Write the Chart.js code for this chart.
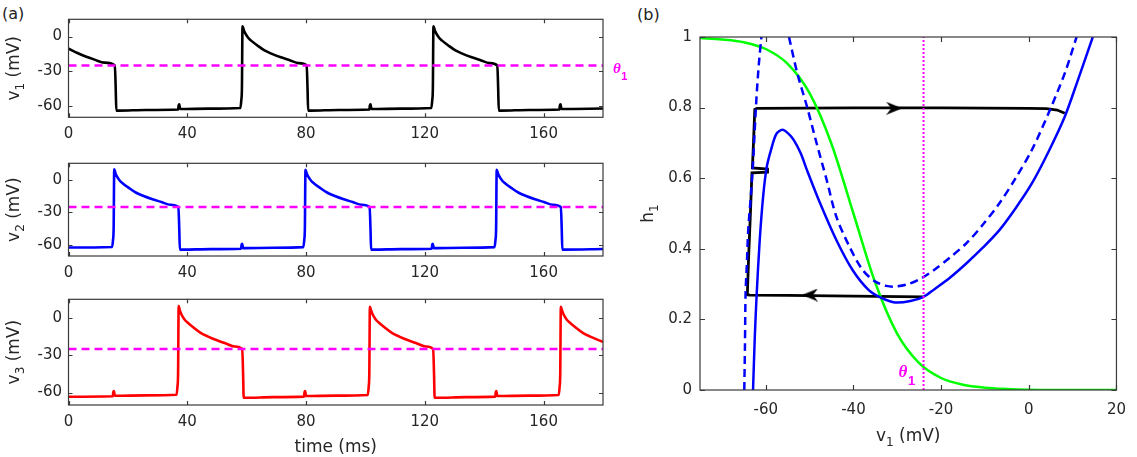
<!DOCTYPE html>
<html>
<head>
<meta charset="utf-8">
<script src="https://cdn.jsdelivr.net/npm/chart.js@4.4.1/dist/chart.umd.min.js"></script>
<style>
  html, body { margin: 0; padding: 0; background: #fff; }
  body { width: 1137px; height: 457px; position: relative; overflow: hidden;
         font-family: "DejaVu Sans", sans-serif; }
  .panel { position: absolute; }
  .panel canvas { display: block; }
  .tag { position: absolute; font-size: 16px; color: #222; line-height: 20px; }
</style>
</head>
<body>
<div class="tag" style="left:2px;top:4px">(a)</div>
<div class="tag" style="left:637px;top:5px">(b)</div>
<div class="panel" style="left:0;top:0"><canvas id="c1" width="640" height="150"></canvas></div>
<div class="panel" style="left:0;top:144px"><canvas id="c2" width="640" height="140"></canvas></div>
<div class="panel" style="left:0;top:280px"><canvas id="c3" width="640" height="177"></canvas></div>
<div class="panel" style="left:640px;top:0"><canvas id="c4" width="497" height="457"></canvas></div>
<script>
// ---- panel (a): membrane potentials over time ----
const timeTicks = [0, 40, 80, 120, 160];
const voltTicks = [-60, -30, 0];
const thetaLeft = -25;

// [time ms, v mV]
const v1Trace = [[0,-10.5],[3,-14.2],[6,-17.5],[9,-20.2],[12,-22.6],[15.6,-25],[15.9,-45],[16.1,-64.2],[17,-64.2],[26,-63.7],[36.9,-63.3],[37.1,-59.5],[37.3,-58.8],[37.6,-62.8],[47,-62.5],[57.9,-61.9],[58.2,-55],[58.4,-45],[58.6,9],[59,6],[59.5,3],[60.5,-1],[61.5,-3.5],[63.5,-7.5],[66,-12],[68.5,-15],[71.5,-18],[74.5,-20.5],[77.5,-23],[80.2,-25],[80.5,-45],[80.7,-64.2],[81.5,-64.2],[91,-63.7],[101.3,-63.3],[101.5,-59.5],[101.7,-58.8],[102,-62.8],[112,-62.5],[122.2,-61.9],[122.5,-55],[122.7,-45],[122.9,9],[123.3,6],[123.8,3],[124.8,-1],[125.8,-3.5],[127.8,-7.5],[130.3,-12],[132.8,-15],[135.8,-18],[138.8,-20.5],[141.8,-23],[144.4,-25],[144.7,-45],[144.9,-64.2],[145.7,-64.2],[155,-63.7],[165.3,-63.3],[165.5,-59.5],[165.7,-58.8],[166,-62.8],[180,-62.4]];

const v2Trace = [[0,-62.2],[14.7,-61.7],[15,-55],[15.2,-45],[15.4,9.5],[15.8,6],[16.3,3],[17.3,-1],[18.3,-3.5],[20.3,-7.5],[22.8,-12],[25.3,-15],[28.3,-18],[31.3,-20.5],[34.3,-23],[37,-25],[37.3,-45],[37.5,-64.2],[38.3,-64.2],[48,-63.7],[58.1,-63.3],[58.3,-59.5],[58.5,-58.8],[58.8,-62.8],[69,-62.5],[79.1,-61.9],[79.4,-55],[79.6,-45],[79.8,9],[80.2,6],[80.7,3],[81.7,-1],[82.7,-3.5],[84.7,-7.5],[87.2,-12],[89.7,-15],[92.7,-18],[95.7,-20.5],[98.7,-23],[101.4,-25],[101.7,-45],[101.9,-64.2],[102.7,-64.2],[112,-63.7],[122.3,-63.3],[122.5,-59.5],[122.7,-58.8],[123,-62.8],[133,-62.5],[143.5,-61.9],[143.8,-55],[144,-45],[144.2,9],[144.6,6],[145.1,3],[146.1,-1],[147.1,-3.5],[149.1,-7.5],[151.6,-12],[154.1,-15],[157.1,-18],[160.1,-20.5],[163.1,-23],[165.8,-25],[166.1,-45],[166.3,-64.2],[167.1,-64.2],[180,-63.6]];

const v3Trace = [[0,-63.4],[14.9,-63],[15.1,-59.5],[15.3,-58.8],[15.6,-62.6],[26,-62.3],[36.4,-61.8],[36.7,-55],[36.9,-45],[37.1,9.5],[37.5,6],[38,3],[39,-1],[40,-3.5],[42,-7.5],[44.5,-12],[47,-15],[50,-18],[53,-20.5],[56,-23],[58.5,-25],[58.8,-45],[59,-64.2],[59.8,-64.2],[69,-63.7],[79.3,-63.3],[79.5,-59.5],[79.7,-58.8],[80,-62.8],[90,-62.5],[100.8,-61.9],[101.1,-55],[101.3,-45],[101.5,9],[101.9,6],[102.4,3],[103.4,-1],[104.4,-3.5],[106.4,-7.5],[108.9,-12],[111.4,-15],[114.4,-18],[117.4,-20.5],[120.4,-23],[122.8,-25],[123.1,-45],[123.3,-64.2],[124.1,-64.2],[134,-63.7],[143.7,-63.3],[143.9,-59.5],[144.1,-58.8],[144.4,-62.8],[155,-62.5],[165.1,-61.9],[165.4,-55],[165.6,-45],[165.8,9],[166.2,6],[166.7,3],[167.7,-1],[168.7,-3.5],[170.7,-7.5],[173.2,-12],[175.7,-15],[178.7,-18],[180,-19.3]];

// ---- panel (b): phase plane ----
const vTicks = [-60, -40, -20, 0, 20];
const hTicks = [0, 0.2, 0.4, 0.6, 0.8, 1];
const thetaRight = -24;

// [v mV, h]
const hInfCurve = [[-75,0.997],[-70,0.993],[-65,0.985],[-60,0.966],[-55,0.924],[-50,0.841],[-45,0.697],[-40,0.5],[-35,0.303],[-30,0.159],[-25,0.076],[-20,0.034],[-15,0.015],[-10,0.0067],[-5,0.003],[0,0.001],[10,0.0002],[20,0]];
const nullSolid = [[-62.9,0],[-62.5,0.15],[-62.1,0.264],[-61.4,0.42],[-60.6,0.548],[-59.8,0.63],[-58.8,0.68],[-57.6,0.725],[-56.2,0.737],[-54.9,0.727],[-53.6,0.708],[-52,0.67],[-50.6,0.623],[-47.6,0.529],[-43.9,0.425],[-40.2,0.34],[-36.5,0.283],[-33.5,0.26],[-30.5,0.248],[-27,0.252],[-24,0.264],[-21.6,0.285],[-18,0.318],[-14.2,0.359],[-10.5,0.403],[-6.7,0.453],[-3,0.515],[0.7,0.585],[4.5,0.675],[8.2,0.774],[11.2,0.878],[14.6,1.0]];
const nullDashedLeft = [[-64.9,0],[-64.75,0.12],[-64.6,0.274],[-64.3,0.36],[-64,0.453],[-63.4,0.55],[-62.9,0.642],[-62.5,0.74],[-62.1,0.831],[-61.6,0.92],[-61,1.0]];
const nullDashedRight = [[-54.7,1.0],[-52.8,0.897],[-50.6,0.803],[-48.4,0.699],[-46.1,0.595],[-43.9,0.491],[-40.9,0.406],[-37.9,0.34],[-35,0.307],[-32.5,0.295],[-30.5,0.293],[-27.5,0.3],[-24.6,0.316],[-21.6,0.34],[-18,0.375],[-14.2,0.416],[-10.5,0.468],[-6.7,0.529],[-3,0.6],[0.7,0.68],[4.5,0.784],[8.2,0.897],[10.9,1.0]];
const orbit = [[-24,0.264],[-40,0.266],[-55,0.268],[-63.6,0.269],[-64.2,0.27],[-63.9,0.38],[-63.5,0.5],[-63.15,0.615],[-59.6,0.617],[-59.6,0.626],[-63.05,0.629],[-62.8,0.7],[-62.5,0.795],[-62,0.798],[-40,0.799],[-20,0.799],[0,0.798],[4,0.797],[6.5,0.793],[8.2,0.784]];
const arrowRight = [[-30.7, 0.798]];
const arrowLeft = [[-49.9, 0.269]];

const FONT = '"DejaVu Sans", sans-serif';
const INK = '#262626';
Chart.defaults.font.family = FONT;
Chart.defaults.color = INK;

const pts = a => a.map(([x, y]) => ({x, y}));

function drawTheta(ctx, x, y, size) {
    ctx.fillStyle = '#ff00ff';
    ctx.textBaseline = 'alphabetic';
    ctx.textAlign = 'left';
    ctx.font = 'italic bold ' + size + 'px "Liberation Serif", serif';
    ctx.fillText('\u03B8', x, y);
    const w = ctx.measureText('\u03B8').width;
    ctx.font = 'bold ' + Math.round(size * 0.75) + 'px "Liberation Sans", sans-serif';
    ctx.fillText('1', x + w + 0.5, y + size * 0.45);
}

// axis title with a real subscript
function richText(ctx, parts, cx, cy, rot) {
    const big = '17px ' + FONT, small = '12px ' + FONT;
    ctx.save();
    ctx.translate(cx, cy);
    ctx.rotate(rot);
    ctx.textBaseline = 'middle';
    ctx.textAlign = 'left';
    ctx.fillStyle = INK;
    let w = 0;
    parts.forEach(p => { ctx.font = p[1] ? small : big; w += ctx.measureText(p[0]).width; });
    let x = -w / 2;
    parts.forEach(p => {
        ctx.font = p[1] ? small : big;
        ctx.fillText(p[0], x, p[1] ? 6 : 0);
        x += ctx.measureText(p[0]).width;
    });
    ctx.restore();
}

// box with inward ticks, like the original figure
const boxPlugin = {
    id: 'box',
    afterDraw(chart, args, opts) {
        const {ctx, chartArea: a, scales: {x, y}} = chart;
        const t = opts.tick || 4;
        ctx.save();
        ctx.strokeStyle = '#3a3a3a';
        ctx.lineWidth = 1.2;
        ctx.beginPath();
        x.ticks.forEach(tk => {
            const px = Math.round(x.getPixelForValue(tk.value)) + 0.5;
            ctx.moveTo(px, a.bottom); ctx.lineTo(px, a.bottom - t);
            ctx.moveTo(px, a.top); ctx.lineTo(px, a.top + t);
        });
        y.ticks.forEach(tk => {
            const py = Math.round(y.getPixelForValue(tk.value)) + 0.5;
            ctx.moveTo(a.left, py); ctx.lineTo(a.left + t, py);
            ctx.moveTo(a.right, py); ctx.lineTo(a.right - t, py);
        });
        ctx.stroke();
        ctx.strokeRect(a.left, a.top, a.right - a.left, a.bottom - a.top);
        if (opts.yTitle) {
            richText(ctx, opts.yTitle, y.left + opts.yTitleX, (a.top + a.bottom) / 2, -Math.PI / 2);
        }
        if (opts.xTitle) {
            richText(ctx, opts.xTitle, (a.left + a.right) / 2, opts.xTitleY, 0);
        }
        if (opts.thetaSide) {
            drawTheta(ctx, a.right + 10, y.getPixelForValue(thetaLeft) + 8, 15);
        }
        if (opts.thetaBottom) {
            drawTheta(ctx, x.getPixelForValue(thetaRight) - 25, y.getPixelForValue(0) - 13, 17);
        }
        ctx.restore();
    }
};

function line(data, color, extra) {
    return Object.assign({
        data: pts(data), showLine: true, borderColor: color, backgroundColor: color,
        borderWidth: 2.5, pointRadius: 0, fill: false
    }, extra || {});
}

function timeChart(id, trace, color, sub, opts) {
    return new Chart(document.getElementById(id), {
        type: 'scatter',
        data: {
            datasets: [
                line([[0, thetaLeft], [180, thetaLeft]], '#ff00ff', {borderDash: [8, 5]}),
                line(trace, color, {cubicInterpolationMode: 'monotone', borderWidth: 2.6})
            ]
        },
        options: {
            responsive: false, animation: false, events: [],
            layout: {padding: {top: 19.3, left: 0, right: 37, bottom: 0}},
            plugins: {
                legend: {display: false}, tooltip: {enabled: false},
                box: {
                    tick: 4, thetaSide: !!opts.theta,
                    yTitle: [['v'], [sub, true], [' (mV)']], yTitleX: 15,
                    xTitle: opts.xTitle ? [['time (ms)']] : null, xTitleY: 168
                }
            },
            scales: {
                x: {
                    type: 'linear', min: 0, max: 180,
                    afterBuildTicks: s => { s.ticks = timeTicks.map(v => ({value: v})); },
                    grid: {display: false, drawTicks: false}, border: {display: false},
                    ticks: {color: INK, font: {size: 15}, padding: 8, maxRotation: 0},
                    afterFit: s => { s.height = opts.xh; }
                },
                y: {
                    type: 'linear', min: -70, max: 15,
                    afterBuildTicks: s => { s.ticks = voltTicks.map(v => ({value: v})); },
                    grid: {display: false, drawTicks: false}, border: {display: false},
                    ticks: {color: INK, font: {size: 15}, padding: 6.5},
                    afterFit: s => { s.width = 68.5; }
                }
            }
        },
        plugins: [boxPlugin]
    });
}

timeChart('c1', v1Trace, '#000000', '1', {xh: 32.7, theta: true});
timeChart('c2', v2Trace, '#0000ff', '2', {xh: 28});
timeChart('c3', v3Trace, '#ff0000', '3', {xh: 52, xTitle: true});

function makeArrow() {
    const c = document.createElement('canvas');
    c.width = 16; c.height = 13;
    const g = c.getContext('2d');
    g.fillStyle = '#000';
    g.beginPath();
    g.moveTo(16, 6.5); g.lineTo(0, 0); g.lineTo(5, 6.5); g.lineTo(0, 13);
    g.closePath();
    g.fill();
    return c;
}
const arrowImg = makeArrow();

new Chart(document.getElementById('c4'), {
    type: 'scatter',
    data: {
        datasets: [
            {data: pts(arrowRight), pointStyle: arrowImg, pointRadius: 6, rotation: 0, showLine: false},
            {data: pts(arrowLeft), pointStyle: arrowImg, pointRadius: 6, rotation: 180, showLine: false},
            line([[thetaRight, 0], [thetaRight, 1]], '#ff00ff', {borderDash: [2, 2], borderWidth: 2}),
            line(nullDashedLeft, '#0000ff', {borderDash: [8, 5], tension: 0.3}),
            line(nullDashedRight, '#0000ff', {borderDash: [8, 5], tension: 0.3}),
            line(nullSolid, '#0000ff', {tension: 0.3}),
            line(hInfCurve, '#00ff00', {cubicInterpolationMode: 'monotone'}),
            line(orbit, '#000000', {tension: 0, borderWidth: 2.8})
        ]
    },
    options: {
        responsive: false, animation: false, events: [],
        layout: {padding: {top: 37, left: 0, right: 10.3, bottom: 0}},
        plugins: {
            legend: {display: false}, tooltip: {enabled: false},
            box: {
                tick: 5, thetaBottom: true,
                yTitle: [['h'], ['1', true]], yTitleX: 9,
                xTitle: [['v'], ['1', true], [' (mV)']], xTitleY: 437
            }
        },
        scales: {
            x: {
                type: 'linear', min: -75, max: 20,
                afterBuildTicks: s => { s.ticks = vTicks.map(v => ({value: v})); },
                grid: {display: false, drawTicks: false}, border: {display: false},
                ticks: {color: INK, font: {size: 15}, padding: 11, maxRotation: 0},
                afterFit: s => { s.height = 67; }
            },
            y: {
                type: 'linear', min: 0, max: 1,
                afterBuildTicks: s => { s.ticks = hTicks.map(v => ({value: v})); },
                grid: {display: false, drawTicks: false}, border: {display: false},
                ticks: {color: INK, font: {size: 15}, padding: 8,
                        callback: v => String(Math.round(v * 10) / 10)},
                afterFit: s => { s.width = 60; }
            }
        }
    },
    plugins: [boxPlugin]
});
</script>
</body>
</html>
